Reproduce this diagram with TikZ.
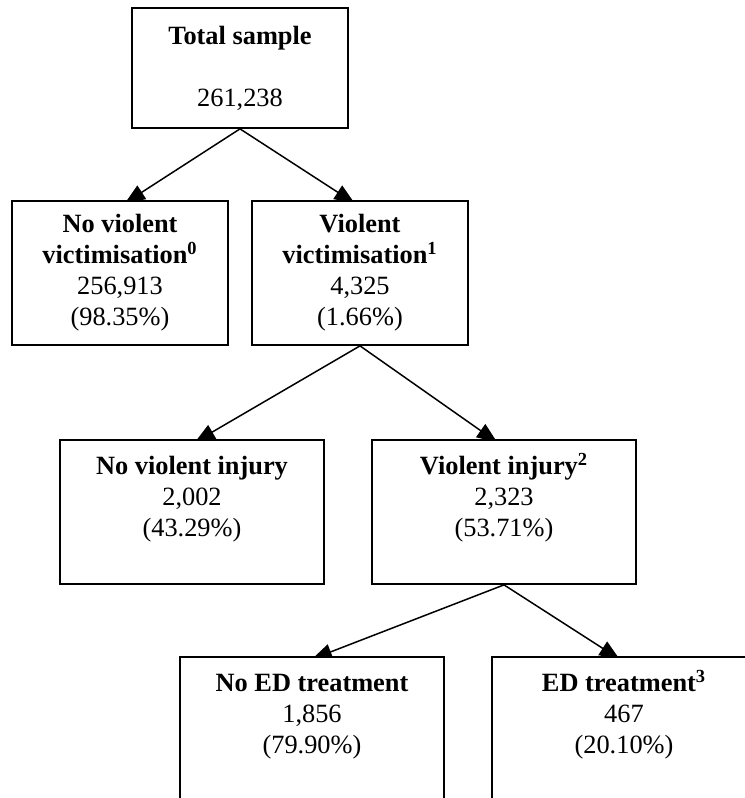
\documentclass[tikz,border=0pt]{standalone}
\usepackage{fontspec}
\setmainfont{Liberation Serif}
\usepackage{tikz}
\usetikzlibrary{arrows.meta}
\pgfdeclarelayer{bg}
\pgfsetlayers{bg,main}

\begin{document}
\begin{tikzpicture}[
    box/.style={draw, fill=white, line width=1pt, align=center, inner sep=0pt, font=\fontsize{15}{17.6}\selectfont},
    arr/.style={line width=0.85pt, -{Triangle[length=0.4cm, width=0.32cm]}}
]
    \useasboundingbox (0,0) rectangle (14.9,15.96);
    \clip (0,0) rectangle (14.9,15.96);
    \node[box, minimum width=4.32cm, minimum height=2.4cm] (total) at (4.8,14.6) {\textbf{Total sample}\\ \mbox{}\\ 261,238};
    \node[box, minimum width=4.32cm, minimum height=2.88cm] (noviol) at (2.4,10.5) {\textbf{No violent}\\ \textbf{victimisation\smash{\textsuperscript{0}}}\\ 256,913\\ (98.35\%)};
    \node[box, minimum width=4.32cm, minimum height=2.88cm] (viol) at (7.2,10.5) {\textbf{Violent}\\ \textbf{victimisation\smash{\textsuperscript{1}}}\\ 4,325\\ (1.66\%)};
    \node[box, minimum width=5.28cm, minimum height=2.88cm] (noinj) at (3.84,5.72) {\textbf{No violent injury}\\ 2,002\\ (43.29\%)\\ \mbox{}};
    \node[box, minimum width=5.28cm, minimum height=2.88cm] (inj) at (10.08,5.72) {\textbf{Violent injury\smash{\textsuperscript{2}}}\\ 2,323\\ (53.71\%)\\ \mbox{}};
    \node[box, minimum width=5.28cm, minimum height=2.88cm] (noed) at (6.24,1.38) {\textbf{No ED treatment}\\ 1,856\\ (79.90\%)\\ \mbox{}};
    \node[box, minimum width=5.28cm, minimum height=2.88cm] (ed) at (12.48,1.38) {\textbf{ED treatment\smash{\textsuperscript{3}}}\\ 467\\ (20.10\%)\\ \mbox{}};
    % arrows run under the boxes, tips tucked in
    \begin{pgfonlayer}{bg}
    \draw[arr] (total.south) -- ([xshift=0.1cm, yshift=-0.06cm]noviol.north);
    \draw[arr] (total.south) -- ([xshift=-0.11cm, yshift=-0.06cm]viol.north);
    \draw[arr] (viol.south) -- ([xshift=0.06cm, yshift=-0.06cm]noinj.north);
    \draw[arr] (viol.south) -- ([xshift=-0.14cm, yshift=-0.06cm]inj.north);
    \draw[arr] (inj.south) -- ([yshift=-0.06cm]noed.north);
    \draw[arr] (inj.south) -- ([xshift=-0.09cm, yshift=-0.06cm]ed.north);
    \end{pgfonlayer}
\end{tikzpicture}
\end{document}
